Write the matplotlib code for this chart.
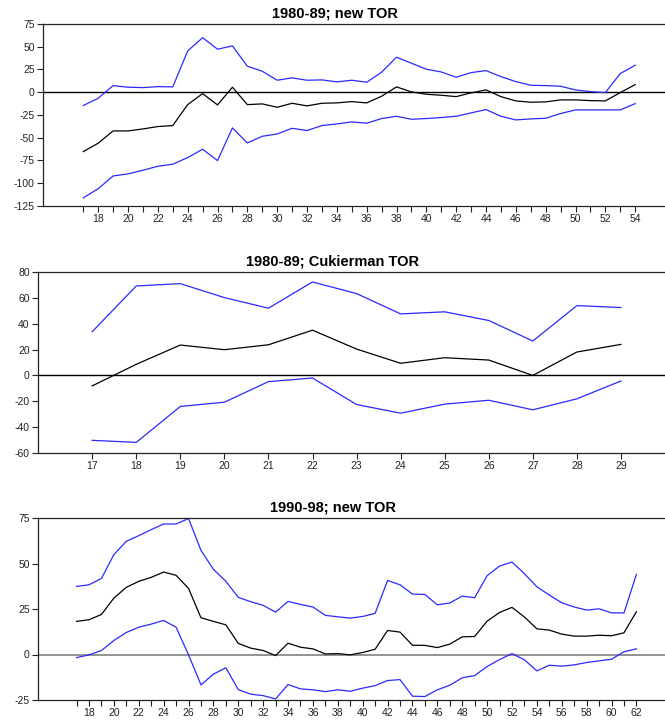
import matplotlib
matplotlib.use("Agg")
import matplotlib.pyplot as plt
from matplotlib.ticker import FixedLocator
import numpy as np

plt.rcParams['font.family'] = ['Liberation Sans', 'DejaVu Sans']

# ---------- Panel 1: 1980-89; new TOR ----------
p1_x = list(range(17, 55))
p1_upper = [-14.6, -6.6, 7.3, 5.5, 5.1, 6.2, 5.9, 45.4, 60.0, 47.3, 50.9, 28.6, 23.1, 13.2,
            15.8, 13.2, 13.6, 11.4, 13.2, 11.0, 22.0, 38.5, 31.9, 25.3, 22.3, 16.5, 21.6,
            23.8, 17.2, 11.7, 7.7, 7.3, 6.6, 2.6, 0.7, -0.4, 20.5, 29.7]
p1_mid = [-65.2, -56.0, -42.5, -42.5, -40.3, -37.7, -36.6, -13.6, -1.5, -13.9, 5.5, -13.6,
          -12.8, -16.5, -12.1, -15.0, -12.1, -11.7, -10.3, -11.7, -4.4, 5.9, 0.4, -2.2,
          -3.3, -4.8, -0.7, 2.6, -4.8, -9.5, -11.0, -10.6, -8.4, -8.4, -9.2, -9.5, -0.4, 8.4]
p1_lower = [-116.0, -106.0, -92.0, -89.7, -85.7, -81.3, -79.1, -71.8, -62.6, -75.1, -39.2,
            -55.7, -48.4, -45.8, -39.6, -42.1, -36.6, -34.8, -32.6, -34.0, -28.9, -26.4,
            -29.7, -28.9, -27.8, -26.4, -22.7, -19.0, -26.4, -30.4, -29.3, -28.6, -23.4,
            -19.4, -19.4, -19.4, -19.4, -12.5]
p1_yticks = [75, 50, 25, 0, -25, -50, -75, -100, -125]
p1_xticks = list(range(18, 55, 2))

# ---------- Panel 2: 1980-89; Cukierman TOR ----------
p2_x = list(range(17, 30))
p2_upper = [33.8, 69.2, 71.0, 60.2, 52.0, 72.3, 63.3, 47.6, 49.2, 42.5, 26.6, 54.0, 52.5]
p2_mid = [-8.1, 8.6, 23.5, 19.9, 23.7, 35.0, 20.4, 9.4, 13.7, 11.9, 0.0, 18.1, 24.0]
p2_lower = [-50.2, -51.8, -24.0, -20.7, -4.8, -2.0, -22.5, -29.2, -22.2, -19.2, -26.6, -18.1, -4.3]
p2_yticks = [80, 60, 40, 20, 0, -20, -40, -60]
p2_xticks = list(range(17, 30))

# ---------- Panel 3: 1990-98; new TOR ----------
p3_x = list(range(17, 63))
p3_upper = [37.4, 38.3, 41.8, 54.9, 62.2, 65.3, 68.6, 71.7, 71.7, 74.7, 57.2, 46.8, 40.2,
            31.4, 29.0, 27.0, 23.3, 29.2, 27.5, 26.1, 21.5, 20.7, 20.0, 20.9, 22.6, 40.7,
            38.3, 33.2, 33.0, 27.3, 28.3, 32.1, 31.2, 43.3, 48.6, 50.8, 44.4, 37.2, 32.7,
            28.4, 26.1, 24.4, 25.1, 22.9, 22.8, 44.0]
p3_mid = [18.2, 19.1, 22.0, 31.0, 36.9, 40.2, 42.4, 45.3, 43.5, 36.3, 20.2, 18.2, 16.3,
          6.1, 3.5, 2.2, -0.6, 6.2, 4.0, 3.1, 0.3, 0.5, -0.2, 1.1, 2.9, 13.2, 12.3, 5.1,
          5.0, 3.8, 5.7, 9.7, 9.9, 18.3, 23.1, 25.9, 20.6, 14.1, 13.4, 11.2, 10.1, 10.1,
          10.6, 10.3, 11.9, 23.5]
p3_lower = [-1.7, -0.2, 2.2, 7.7, 12.1, 15.0, 16.7, 18.7, 15.0, -0.2, -16.7, -10.8, -7.3,
            -19.3, -21.8, -22.6, -24.4, -16.5, -18.9, -19.4, -20.4, -19.4, -20.2, -18.5,
            -17.1, -14.3, -13.8, -22.9, -23.1, -19.4, -16.9, -12.8, -11.6, -6.6, -2.8, 0.5,
            -2.9, -9.0, -5.9, -6.4, -5.7, -4.4, -3.5, -2.6, 1.5, 3.1]
p3_yticks = [75, 50, 25, 0, -25]
p3_xticks = list(range(18, 63, 2))

W, H = 665, 722
fig = plt.figure(figsize=(W / 100, H / 100), dpi=100)

BLUE = '#2a2aff'

def panel(rect, title, x, up, mid, lo, yticks, xticks, xlim, ylim, zero_color, minor):
    ax = fig.add_axes(rect)
    ax.plot(x, up, color=BLUE, lw=0.9)
    ax.plot(x, mid, color='black', lw=0.9)
    ax.plot(x, lo, color=BLUE, lw=0.9)
    ax.axhline(0, color=zero_color, lw=1.2 if zero_color != 'black' else 1.0, zorder=0)
    ax.set_xlim(*xlim)
    ax.set_ylim(*ylim)
    ax.set_yticks(yticks)
    ax.set_yticklabels([str(v) for v in yticks])
    ax.set_xticks(xticks)
    ax.set_xticklabels([str(v) for v in xticks])
    if minor:
        ax.xaxis.set_minor_locator(FixedLocator(x))
    ax.spines['right'].set_visible(False)
    for s in ['top', 'left', 'bottom']:
        ax.spines[s].set_linewidth(0.9)
        ax.spines[s].set_color('#222222')
    ax.tick_params(axis='both', which='both', direction='out', length=4, width=0.8,
                   labelsize=7.5, colors='#222222', pad=2)
    ax.tick_params(axis='x', which='minor', length=4)
    ax.set_title(title, fontsize=10.5, fontweight='bold', pad=5, x=0.47)
    return ax

panel([43 / W, 1 - 206 / H, 1 - 43 / W, (206 - 24) / H], '1980-89; new TOR',
      p1_x, p1_upper, p1_mid, p1_lower, p1_yticks, p1_xticks, (14.3, 56.0), (-125, 75),
      'black', True)
panel([38 / W, 1 - 453 / H, 1 - 38 / W, (453 - 272) / H], '1980-89; Cukierman TOR',
      p2_x, p2_upper, p2_mid, p2_lower, p2_yticks, p2_xticks, (15.77, 30.0), (-60, 80),
      'black', False)
panel([38 / W, 1 - 700 / H, 1 - 38 / W, (700 - 518) / H], '1990-98; new TOR',
      p3_x, p3_upper, p3_mid, p3_lower, p3_yticks, p3_xticks, (13.9, 64.3), (-25, 75),
      '#808080', True)

fig.savefig('out.png', dpi=100)
